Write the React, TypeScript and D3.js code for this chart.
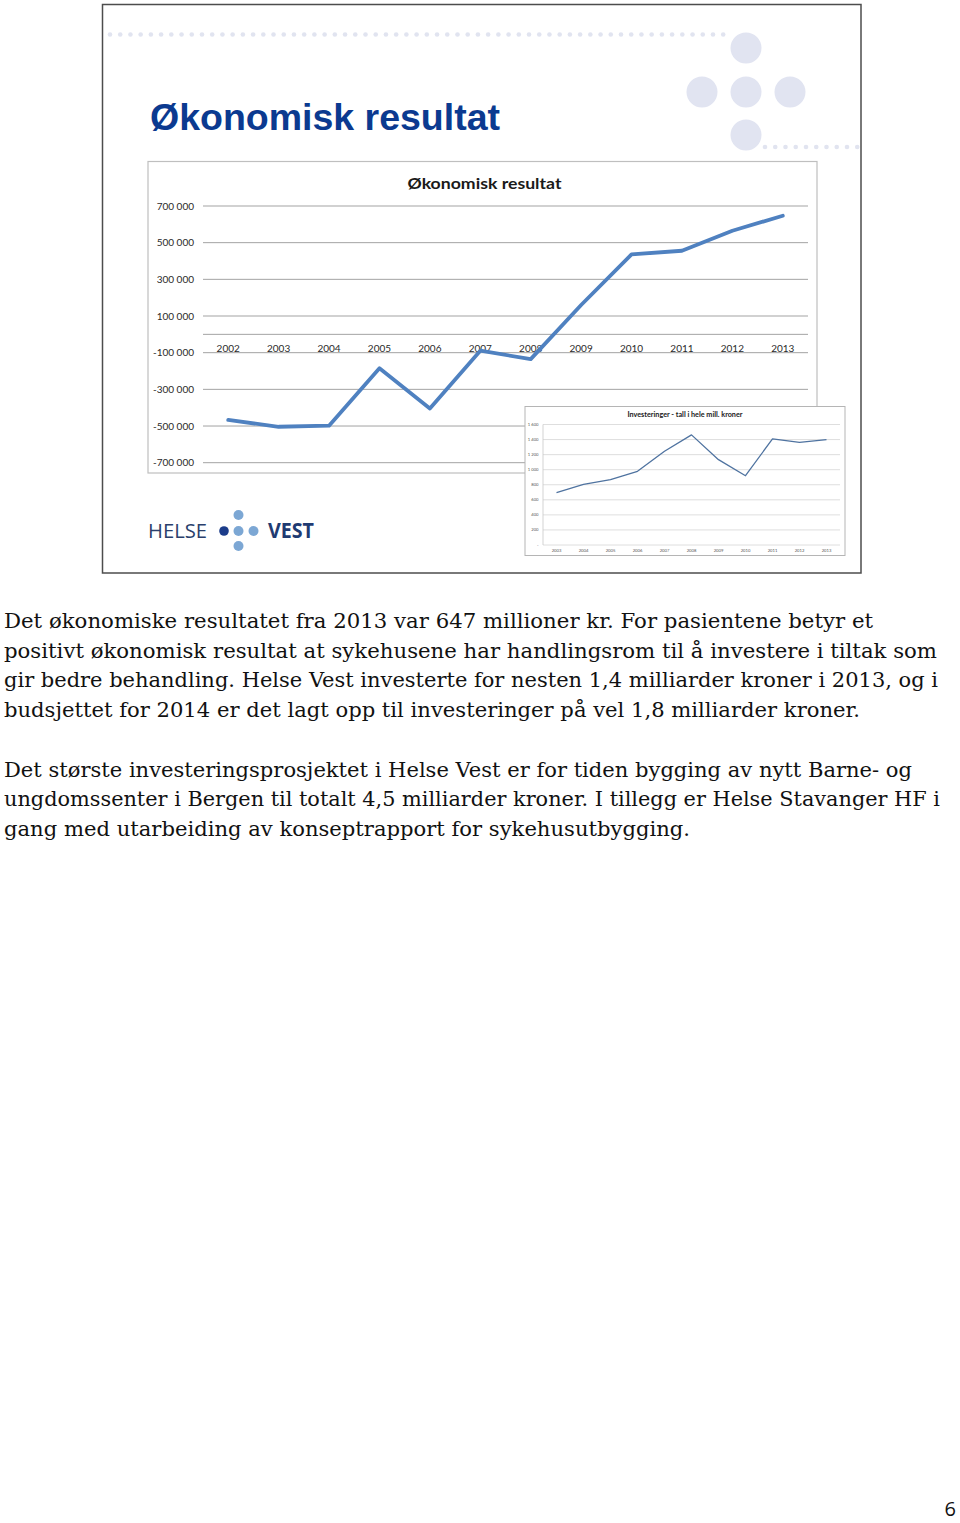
import React from "react";
import * as d3 from "d3";

// ---- Main chart data (thousand NOK) ----
const years = ["2002","2003","2004","2005","2006","2007","2008","2009","2010","2011","2012","2013"];
const results = [-467000, -504000, -498000, -185000, -404000, -89000, -135000, 160000, 436000, 456000, 565000, 647000];
const yTicks = [700000, 500000, 300000, 100000, -100000, -300000, -500000, -700000];

// ---- Inset chart data (mill. NOK) ----
const invYears = ["2003","2004","2005","2006","2007","2008","2009","2010","2011","2012","2013"];
const investments = [697, 804, 867, 978, 1244, 1462, 1133, 920, 1409, 1364, 1400];
const invTicks = [0, 200, 400, 600, 800, 1000, 1200, 1400, 1600];

// ---- Texts ----
const slideTitle = "Økonomisk resultat";
const chartTitle = "Økonomisk resultat";
const insetTitle = "Investeringer - tall i hele mill. kroner";
const bodyLines = [
  "Det økonomiske resultatet fra 2013 var 647 millioner kr. For pasientene betyr et",
  "positivt økonomisk resultat at sykehusene har handlingsrom til å investere i tiltak som",
  "gir bedre behandling. Helse Vest investerte for nesten 1,4 milliarder kroner i 2013, og i",
  "budsjettet for 2014 er det lagt opp til investeringer på vel 1,8 milliarder kroner.",
  "",
  "Det største investeringsprosjektet i Helse Vest er for tiden bygging av nytt Barne- og",
  "ungdomssenter i Bergen til totalt 4,5 milliarder kroner. I tillegg er Helse Stavanger HF i",
  "gang med utarbeiding av konseptrapport for sykehusutbygging.",
];
const bodyWidths = [869, 933, 934, 856, 0, 908, 936, 686];
const pageNumber = "6";

const fmt = (v: number) => {
  const s = d3.format(",")(Math.abs(v)).replace(/,/g, " ");
  return (v < 0 ? "-" : "") + s;
};
const fmtInv = (v: number) => (v === 0 ? "-" : d3.format(",")(v).replace(/,/g, " "));

export default function App() {
  // main chart scales
  const x = d3.scaleBand<string>().domain(years).range([203, 808]);
  const y = d3.scaleLinear().domain([-700000, 700000]).range([462.7, 206]);
  const line = d3
    .line<number>()
    .x((_, i) => (x(years[i]) as number) + x.bandwidth() / 2)
    .y((d) => y(d));

  // inset scales
  const xi = d3.scaleBand<string>().domain(invYears).range([543, 840]);
  const yi = d3.scaleLinear().domain([0, 1600]).range([545, 424.5]);
  const lineI = d3
    .line<number>()
    .x((_, i) => (xi(invYears[i]) as number) + xi.bandwidth() / 2)
    .y((d) => yi(d));

  const topDots = d3.range(61).map((i) => 110 + i * 10.22);
  const rightDots = d3.range(10).map((i) => 765 + i * 10.25);
  const bigDots = [
    [746, 48],
    [702, 92],
    [746, 92],
    [790, 92],
    [746, 135],
  ];

  const sans = "Lato, 'Open Sans', sans-serif";

  return (
    <svg
      width={960}
      height={1523}
      style={{ position: "absolute", left: 0, top: 0, background: "#fff" }}
    >
      <rect x={0} y={0} width={960} height={1523} fill="#fff" />
      {/* slide frame */}
      <rect x={102.5} y={4.5} width={758.5} height={568.5} fill="#fff" stroke="#4d4d4d" strokeWidth={1.5} />

      {/* decoration */}
      {topDots.map((cx, i) => (
        <circle key={"t" + i} cx={cx} cy={34.5} r={2.3} fill="#e1e4f0" />
      ))}
      {rightDots.map((cx, i) => (
        <circle key={"r" + i} cx={cx} cy={147} r={2.3} fill="#e1e4f0" />
      ))}
      {bigDots.map(([cx, cy], i) => (
        <ellipse key={"b" + i} cx={cx} cy={cy} rx={15.5} ry={15.5} fill="#e1e4f1" />
      ))}

      {/* slide title */}
      <text
        x={150}
        y={130}
        fontFamily="'Liberation Sans', Arial, sans-serif"
        fontWeight="bold"
        fontSize={37}
        fill="#0b3a90"
        textLength={350}
        lengthAdjust="spacingAndGlyphs"
      >
        {slideTitle}
      </text>

      {/* main chart box */}
      <rect x={148} y={161.5} width={669} height={311.5} fill="#fff" stroke="#bfbfbf" strokeWidth={1.2} />
      <text
        x={484.5}
        y={188.5}
        textAnchor="middle"
        fontFamily={sans}
        fontWeight="bold"
        fontSize={16}
        fill="#1a1a1a"
        textLength={154}
        lengthAdjust="spacingAndGlyphs"
      >
        {chartTitle}
      </text>

      {/* gridlines */}
      {yTicks.map((t) => (
        <line key={t} x1={203} x2={808} y1={y(t)} y2={y(t)} stroke="#a3a3a3" strokeWidth={1} />
      ))}
      {/* zero axis */}
      <line x1={203} x2={808} y1={y(0)} y2={y(0)} stroke="#a3a3a3" strokeWidth={1} />

      {/* y labels */}
      {yTicks.map((t) => (
        <text
          key={"yl" + t}
          x={194}
          y={y(t) + 3.5}
          textAnchor="end"
          fontFamily={sans}
          fontSize={10}
          fill="#2a2a2a"
        >
          {fmt(t)}
        </text>
      ))}
      {/* x labels */}
      {years.map((yr) => (
        <text
          key={"xl" + yr}
          x={(x(yr) as number) + x.bandwidth() / 2}
          y={352}
          textAnchor="middle"
          fontFamily={sans}
          fontSize={10}
          fill="#2a2a2a"
        >
          {yr}
        </text>
      ))}

      {/* main line */}
      <path d={line(results) || ""} fill="none" stroke="#4f81c0" strokeWidth={3.8} strokeLinejoin="round" strokeLinecap="round" />

      {/* inset chart */}
      <rect x={525} y={406.5} width={320} height={149} fill="#fff" stroke="#b5b5b5" strokeWidth={1} />
      <text
        x={685}
        y={417}
        textAnchor="middle"
        fontFamily={sans}
        fontWeight="bold"
        fontSize={7}
        fill="#1a1a1a"
        textLength={115}
        lengthAdjust="spacingAndGlyphs"
      >
        {insetTitle}
      </text>
      {invTicks.map((t) => (
        <line key={"ig" + t} x1={543} x2={840} y1={yi(t)} y2={yi(t)} stroke="#d6d6d6" strokeWidth={0.8} />
      ))}
      <line x1={543} x2={543} y1={yi(1600)} y2={yi(0)} stroke="#c8c8c8" strokeWidth={0.8} />
      {invTicks.map((t) => (
        <text
          key={"iyl" + t}
          x={538.5}
          y={yi(t) + 1.5}
          textAnchor="end"
          fontFamily={sans}
          fontSize={4.2}
          fill="#555"
        >
          {fmtInv(t)}
        </text>
      ))}
      {invYears.map((yr) => (
        <text
          key={"ixl" + yr}
          x={(xi(yr) as number) + xi.bandwidth() / 2}
          y={551.5}
          textAnchor="middle"
          fontFamily={sans}
          fontSize={4.2}
          fill="#555"
        >
          {yr}
        </text>
      ))}
      <path d={lineI(investments) || ""} fill="none" stroke="#4f73a0" strokeWidth={1.3} strokeLinejoin="round" />

      {/* HELSE VEST logo */}
      <text
        x={148}
        y={538}
        fontFamily="'Open Sans', sans-serif"
        fontSize={20.5}
        fill="#2a3f6c"
        textLength={59}
        lengthAdjust="spacingAndGlyphs"
      >
        HELSE
      </text>
      <circle cx={224} cy={531} r={4.8} fill="#1b3c8a" />
      <circle cx={238.5} cy={515} r={5} fill="#7ca7d4" />
      <circle cx={238.5} cy={531} r={5} fill="#7ca7d4" />
      <circle cx={253.5} cy={531} r={5} fill="#7ca7d4" />
      <circle cx={238.5} cy={546} r={5} fill="#7ca7d4" />
      <text
        x={268}
        y={538}
        fontFamily="'Open Sans', sans-serif"
        fontWeight="bold"
        fontSize={20.5}
        fill="#1f3b72"
        textLength={46}
        lengthAdjust="spacingAndGlyphs"
      >
        VEST
      </text>

      {/* body text */}
      {bodyLines.map((l, i) =>
        l ? (
          <text
            key={"bl" + i}
            x={4}
            y={628 + i * 29.7}
            fontFamily="'DejaVu Serif', 'Liberation Serif', serif"
            fontSize={21}
            fill="#111"
            textLength={bodyWidths[i]}
            lengthAdjust="spacingAndGlyphs"
          >
            {l}
          </text>
        ) : null
      )}

      {/* page number */}
      <text x={956} y={1516} textAnchor="end" fontFamily="'Open Sans', sans-serif" fontSize={20} fill="#111">
        {pageNumber}
      </text>
    </svg>
  );
}
